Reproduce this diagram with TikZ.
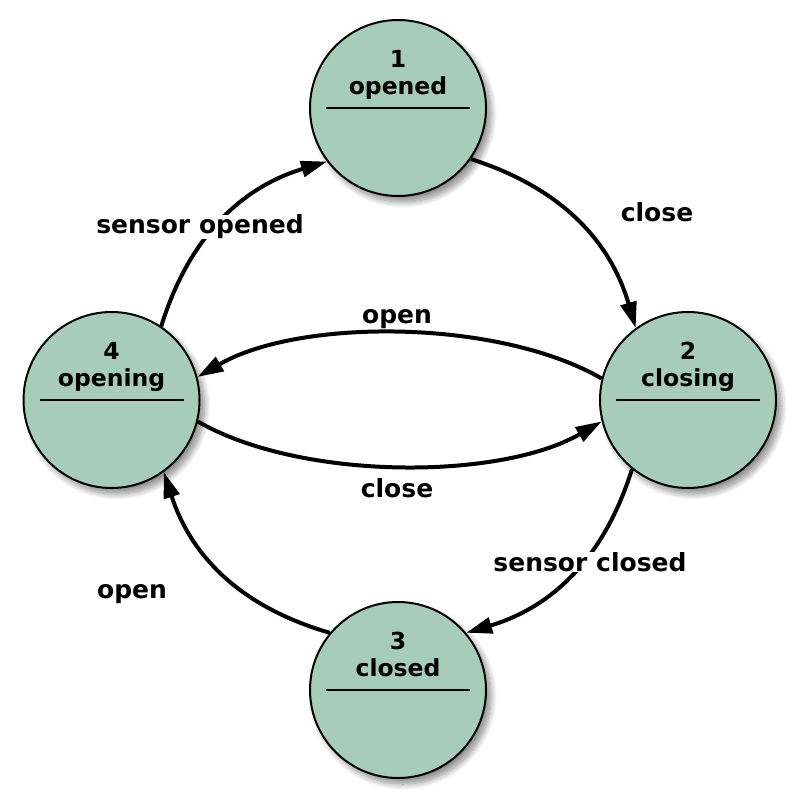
\documentclass[tikz,border=0pt]{standalone}
\usepackage{fontspec}
\setmainfont{DejaVu Sans}
\usetikzlibrary{arrows.meta,shadows.blur}
\definecolor{statefill}{HTML}{A8CCBA}
\begin{document}
\begin{tikzpicture}[x=1pt,y=-1pt,
  state/.style={circle, draw=black, line width=2pt, fill=statefill, minimum size=176pt, inner sep=0pt,
    blur shadow={shadow xshift=5pt, shadow yshift=-6pt, shadow blur steps=12, shadow opacity=45, shadow blur radius=6pt}},
  stext/.style={font=\fontsize{23.5}{27}\selectfont\bfseries, anchor=base, inner sep=0pt},
  elabel/.style={font=\fontsize{25}{29}\selectfont\bfseries, inner sep=0pt, fill=white},
  trans/.style={line width=4pt, -{Triangle[length=26pt,width=16pt]}},
  divider/.style={line width=1.8pt}]
\useasboundingbox (0,0) rectangle (800,808);

\node[state] (s1) at (398,108) {};
\node[state] (s2) at (688,400) {};
\node[state] (s3) at (398,690) {};
\node[state] (s4) at (111.5,400) {};

\foreach \s/\n/\t in {s1/1/opened, s2/2/closing, s3/3/closed, s4/4/opening}{
  \node[stext] (\s n) at ([yshift=41pt]\s.center) {\n};
  \node[stext] (\s t) at ([yshift=14pt]\s.center) {\t};
  \draw[divider] ([xshift=-72pt]\s.center) -- ([xshift=72pt]\s.center);
}

\draw[trans] (s1.-35) to[bend left=28] (s2.126);
\draw[trans] (s4.56) to[bend left=28] (s1.-143);
\draw[trans] (s2.-129) to[bend left=28] (s3.40);
\draw[trans] (s3.140) to[bend left=28] (s4.-54);
\draw[trans] (s2.166) to[out=150,in=30,looseness=0.75] (s4.15);
\draw[trans] (s4.-14) to[out=-30,in=210,looseness=0.75] (s2.194);

\node[elabel] (l12) at (657,212) {close};
\node[elabel] (l41) at (200,227) {sensor opened};
\node[elabel] (l24) at (397,319) {open};
\node[elabel] (l42) at (397,488) {close};
\node[elabel] (l23) at (590,562) {sensor closed};
\node[elabel] (l34) at (132,594) {open};
\end{tikzpicture}
\end{document}
